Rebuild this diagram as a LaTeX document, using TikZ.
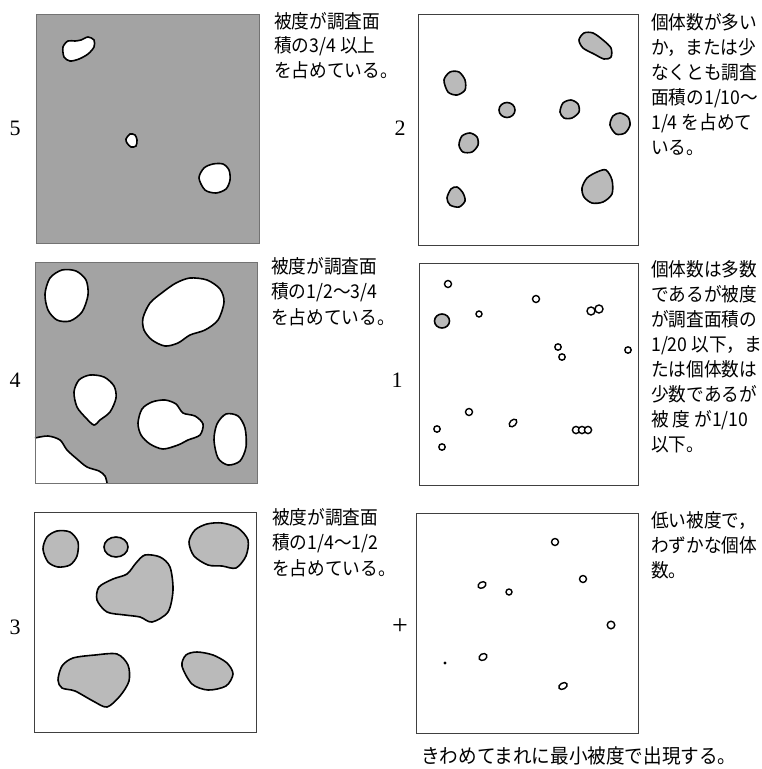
\documentclass[tikz,border=0pt]{standalone}
\usepackage{fontspec}
\setmainfont{Liberation Serif}
\newfontfamily\jp{Noto Sans CJK JP}[FakeStretch=0.93]
\tikzset{
  panelbox/.style={draw=black!75, line width=0.7pt},
  dense/.style={fill=black!36},
  hole/.style={fill=white, draw=black, line width=1.6pt},
  spot/.style={fill=black!27, draw=black, line width=1.6pt},
  ring/.style={fill=white, draw=black, line width=1.4pt},
  desc/.style={font=\jp\fontsize{19}{19}\selectfont, anchor=base west, inner sep=0pt},
  lbl/.style={font=\fontsize{22}{22}\selectfont, inner sep=0pt},
}
\begin{document}
\begin{tikzpicture}[x=1pt, y=-1pt]
\useasboundingbox (0,0) rectangle (761,769);

% ---------------- Panel 5 ----------------
\path[dense] (36,14) rectangle (259,243);
\draw[panelbox, draw=black!55] (36,14) rectangle (259,243);
\draw[hole] plot[smooth cycle] coordinates {(63,47) (68,41) (75,41) (81,40) (88,37) (94,40) (94,47) (88,54) (79,59) (70,61) (64,57)};
\draw[hole] plot[smooth cycle] coordinates {(126,139) (130,134) (135,135) (137,140) (136,146) (131,147) (127,143)};
\draw[hole] plot[smooth cycle] coordinates {(199,178) (204,168) (213,164) (223,164) (229,170) (230,180) (226,189) (216,193) (205,190)};
\node[lbl] (n5) at (15,128) {5};
\foreach \s [count=\i] in {被度が調査面, 積の3/4 以上, を占めている。}
  \node[desc] (t5-\i) at (274,{28+24.5*(\i-1)}) {\s};

% ---------------- Panel 2 ----------------
\draw[panelbox] (418,14) rectangle (638,245);
\draw[spot] plot[smooth cycle] coordinates {(579,40) (584,33) (593,33) (603,40) (611,48) (611,57) (604,59) (594,54) (583,48)};
\draw[spot] plot[smooth cycle] coordinates {(444,80) (450,72) (459,72) (465,80) (465,90) (457,95) (448,92)};
\draw[spot] (507,110) ellipse [x radius=8, y radius=7.5];
\draw[spot] plot[smooth cycle] coordinates {(560,112) (563,103) (571,100) (578,104) (579,112) (572,118) (564,118)};
\draw[spot] plot[smooth cycle] coordinates {(610,125) (613,116) (620,113) (628,117) (630,125) (625,133) (616,134)};
\draw[spot] plot[smooth cycle] coordinates {(459,145) (462,136) (470,133) (477,137) (478,145) (472,152) (463,152)};
\draw[spot] plot[smooth cycle] coordinates {(447,198) (451,189) (457,187) (463,193) (465,201) (459,207) (450,205)};
\draw[spot] plot[smooth cycle] coordinates {(582,188) (587,178) (597,172) (606,170) (612,180) (612,194) (603,202) (592,203) (584,197)};
\node[lbl] (n2) at (400,128) {2};
\foreach \s [count=\i] in {個体数が多い, か，または少, なくとも調査, 面積の1/10～, 1/4 を占めて, いる。}
  \node[desc] (t2-\i) at (651,{29+25*(\i-1)}) {\s};

% ---------------- Panel 4 ----------------
\path[dense] (35,262) rectangle (257,483);
\draw[hole] plot[smooth cycle] coordinates {(45,294) (50,278) (62,270) (76,271) (86,280) (88,295) (82,312) (70,321) (57,320) (48,310)};
\draw[hole] plot[smooth cycle] coordinates {(143,318) (150,303) (163,292) (176,283) (190,278) (207,280) (220,289) (224,302) (218,320) (205,330) (190,335) (178,343) (165,346) (152,340) (144,330)};
\draw[hole] plot[smooth cycle] coordinates {(74,392) (79,380) (90,375) (104,377) (114,386) (116,398) (110,412) (100,420) (94,425) (86,418) (77,407)};
\draw[hole] plot[smooth cycle] coordinates {(138,423) (142,409) (152,402) (165,400) (176,404) (183,413) (195,416) (203,424) (200,435) (188,440) (178,445) (163,449) (150,444) (141,435)};
\draw[hole] plot[smooth cycle] coordinates {(214,440) (217,424) (226,414) (238,416) (245,428) (246,447) (240,461) (228,465) (218,458)};
\fill[white] plot[smooth] coordinates {(35,438) (48,436) (60,440) (67,450) (77,459) (87,467) (99,471) (105,476) (107,483)} -- (35,483) -- cycle;
\draw[line width=1.6pt] plot[smooth] coordinates {(35,438) (48,436) (60,440) (67,450) (77,459) (87,467) (99,471) (105,476) (107,483)};
\draw[panelbox, draw=black!55] (35,262) rectangle (257,483);
\node[lbl] (n4) at (15,380) {4};
\foreach \s [count=\i] in {被度が調査面, 積の1/2～3/4, を占めている。}
  \node[desc] (t4-\i) at (271,{273+25.5*(\i-1)}) {\s};

% ---------------- Panel 1 ----------------
\draw[panelbox] (419,263) rectangle (638,485);
\draw[ring] (448,284) circle [radius=3.5];
\draw[ring] (536,299) circle [radius=3.5];
\draw[ring] (479,314) circle [radius=3];
\draw[spot] (442,321) ellipse [x radius=7.5, y radius=7];
\draw[ring] (591,311) circle [radius=4];
\draw[ring] (599,309) circle [radius=4];
\draw[ring] (558,347) circle [radius=3.2];
\draw[ring] (562,357) circle [radius=3.2];
\draw[ring] (628,350) circle [radius=3.2];
\draw[ring] (469,412) circle [radius=3.5];
\draw[ring, rotate around={-45:(513,423)}] (513,423) ellipse [x radius=3, y radius=4.5];
\draw[ring] (437,429) circle [radius=3.2];
\draw[ring] (442,447) circle [radius=3.2];
\draw[ring] (576,430) circle [radius=3.6];
\draw[ring] (582,430) circle [radius=3.6];
\draw[ring] (588,430) circle [radius=3.6];
\node[lbl] (n1) at (397,380) {1};
\foreach \s [count=\i] in {個体数は多数, であるが被度, が調査面積の, 1/20 以下，ま, たは個体数は, 少数であるが, 被 度 が1/10, 以下。}
  \node[desc] (t1-\i) at (651,{276+25*(\i-1)}) {\s};

% ---------------- Panel 3 ----------------
\draw[panelbox] (34,512) rectangle (256,732);
\draw[spot] plot[smooth cycle] coordinates {(43,549) (47,537) (57,531) (70,532) (78,542) (77,556) (70,565) (58,567) (48,562)};
\draw[spot] (116,547) ellipse [x radius=12, y radius=10];
\draw[spot] plot[smooth cycle] coordinates {(189,542) (195,530) (207,524) (222,523) (238,528) (248,540) (246,556) (236,568) (222,566) (208,565) (194,556)};
\draw[spot] plot[smooth cycle] coordinates {(97,600) (99,587) (113,579) (127,574) (136,563) (145,555) (160,557) (170,567) (173,590) (168,612) (152,622) (140,617) (125,615) (107,612)};
\draw[spot] plot[smooth cycle] coordinates {(58,680) (62,666) (73,658) (95,655) (117,654) (128,665) (129,681) (120,696) (107,707) (93,701) (75,691) (62,688)};
\draw[spot] plot[smooth cycle] coordinates {(182,666) (186,655) (197,652) (213,655) (227,663) (233,674) (226,686) (208,690) (192,684)};
\node[lbl] (n3) at (15,627) {3};
\foreach \s [count=\i] in {被度が調査面, 積の1/4～1/2, を占めている。}
  \node[desc] (t3-\i) at (272,{524+25.5*(\i-1)}) {\s};

% ---------------- Panel + ----------------
\draw[panelbox] (416,513) rectangle (638,733);
\draw[ring] (555,542) circle [radius=3.5];
\draw[ring, rotate around={-60:(482,585)}] (482,585) ellipse [x radius=3, y radius=4.2];
\draw[ring] (509,592) circle [radius=3];
\draw[ring] (583,579) circle [radius=3.5];
\draw[ring] (611,625) circle [radius=3.8];
\draw[ring, rotate around={-60:(483,657)}] (483,657) ellipse [x radius=3.2, y radius=4.2];
\fill (445,663) circle [radius=1.6];
\draw[ring, rotate around={-60:(563,686)}] (563,686) ellipse [x radius=3, y radius=4.5];
\node[lbl, font=\fontsize{28}{28}\selectfont] (np) at (400,627) {+};
\foreach \s [count=\i] in {低い被度で，, わずかな個体, 数。}
  \node[desc] (tp-\i) at (651,{527+25*(\i-1)}) {\s};
\node[desc, font=\jp\fontsize{20}{20}\selectfont] (cap) at (421,763) {きわめてまれに最小被度で出現する。};
\end{tikzpicture}
\end{document}
